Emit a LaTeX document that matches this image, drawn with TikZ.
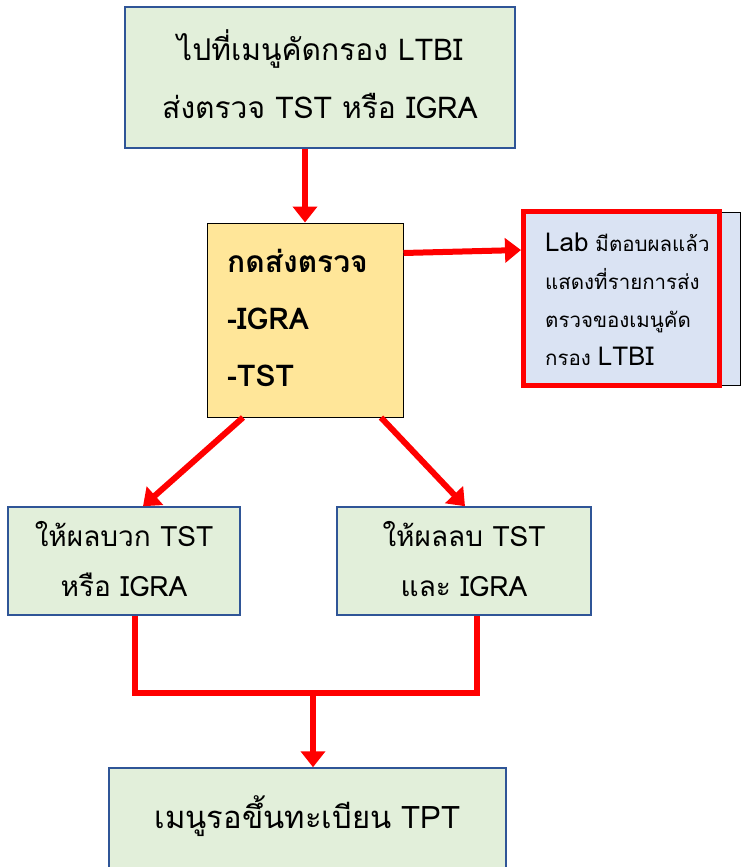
\documentclass[tikz,border=0pt]{standalone}
\usepackage{fontspec}
\setmainfont{Loma}[Script=Thai]
\usetikzlibrary{arrows.meta}
\definecolor{boxgreen}{HTML}{E2EFDA}
\definecolor{boxblue}{HTML}{2F5597}
\definecolor{yellowfill}{HTML}{FFE699}
\definecolor{labfill}{HTML}{DAE3F3}
\definecolor{redline}{HTML}{FF0000}
\begin{document}
\begin{tikzpicture}[x=1pt,y=-1pt,
  gbox/.style={draw=boxblue, line width=1.5pt, fill=boxgreen, rectangle, inner sep=0pt},
  txt/.style={align=center, inner sep=0pt},
  conn/.style={draw=redline, line width=6pt},
  arr/.style={conn, -{Triangle[length=16pt,width=24pt]}}]
\useasboundingbox (0,0) rectangle (743,867);
% boxes
\node[gbox, minimum width=390pt, minimum height=141pt] (top) at (320,77.5) {};
\node[txt, font=\fontsize{30}{58}\selectfont] (toptext) at (320,74)
  {ไปที่เมนูคัดกรอง LTBI\\ส่งตรวจ TST หรือ IGRA};
\node[draw=black, line width=1pt, fill=yellowfill, minimum width=196pt, minimum height=194pt] (press) at (305,320) {};
\node[anchor=west, align=left, inner sep=0pt, font=\bfseries\fontsize{30}{57}\selectfont] (presstext) at (227,318)
  {กดส่งตรวจ\\-IGRA\\-TST};
\node[draw=black, line width=1pt, fill=labfill, minimum width=215pt, minimum height=173pt] (labback) at (632.5,298.5) {};
\node[draw=redline, line width=5pt, fill=labfill, minimum width=196pt, minimum height=174pt] (lab) at (621.5,298) {};
\node[anchor=west, align=left, inner sep=0pt, font=\fontsize{20.5}{38}\selectfont] (labtext) at (545,299)
  {{\fontsize{26}{38}\selectfont Lab} มีตอบผลแล้ว\\แสดงที่รายการส่ง\\ตรวจของเมนูคัด\\กรอง {\fontsize{26}{38}\selectfont LTBI}};
\node[gbox, minimum width=232pt, minimum height=108pt] (left) at (124,561) {};
\node[txt, font=\fontsize{28}{50}\selectfont] (lefttext) at (124,559)
  {ให้ผลบวก TST\\หรือ IGRA};
\node[gbox, minimum width=254pt, minimum height=108pt] (right) at (464,561) {};
\node[txt, font=\fontsize{28}{50}\selectfont] (righttext) at (464,559)
  {ให้ผลลบ TST\\และ IGRA};
\node[gbox, minimum width=397pt, minimum height=104pt] (bottom) at (307.5,820) {};
\node[txt, font=\fontsize{31}{50}\selectfont] (bottomtext) at (307.5,816)
  {เมนูรอขึ้นทะเบียน TPT};
% connectors
\draw[arr] (top.south -| press.north) -- (press.north);
\draw[arr] ([yshift=67pt]press.east) -- ([yshift=48pt]lab.west);
\draw[arr] ([xshift=-62pt]press.south) -- ([xshift=19pt]left.north);
\draw[arr] ([xshift=76pt]press.south) -- ([xshift=1pt]right.north);
\coordinate (lb) at ([xshift=11pt]left.south);
\coordinate (rb) at ([xshift=13pt]right.south);
\coordinate (j) at (313,693);
\draw[conn] (lb) |- (j) -| (rb);
\draw[arr] (j) -- (bottom.north -| j);
\end{tikzpicture}
\end{document}
